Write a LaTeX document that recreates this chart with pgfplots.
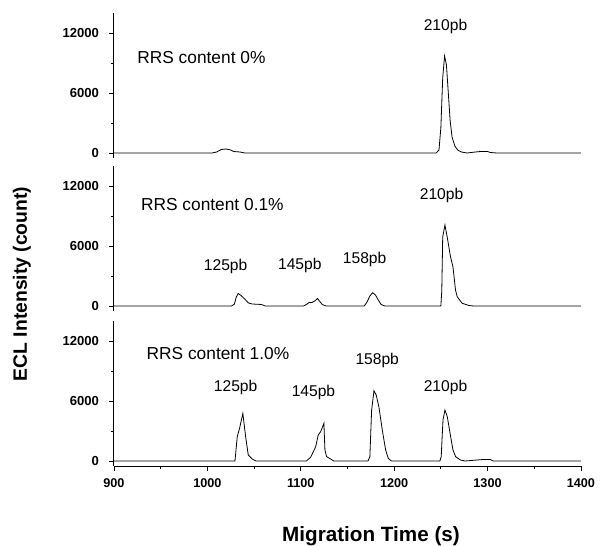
\documentclass[border=0pt]{standalone}
\usepackage{pgfplots}
\pgfplotsset{compat=1.18}
\usepackage{fontspec}
\setmainfont{Liberation Sans}

\pgfplotsset{
  panel/.style={
    scale only axis,
    width=350.25pt, height=108.75pt,
    xmin=900, xmax=1400, ymin=-500, ymax=14000,
    axis y line*=left,
    axis line style={black, line width=0.7pt},
    ytick={0,6000,12000}, minor ytick={3000,9000},
    scaled y ticks=false, scaled x ticks=false,
    tick align=outside,
    major tick length=3.75pt, minor tick length=2.5pt,
    tick style={black, line width=0.6pt},
    /pgf/number format/assume math mode=true,
    /pgf/number format/1000 sep={},
    yticklabel style={font=\bfseries\fontsize{9.8}{11}\selectfont, xshift=-4pt},
    xticklabel style={font=\bfseries\fontsize{9.5}{11}\selectfont},
    clip=false,
  },
  trace/.style={black, line width=0.6pt, mark=none},
}
\tikzset{
  note/.style={font=\fontsize{11.7}{13}\selectfont},
  title note/.style={font=\fontsize{13}{15}\selectfont, anchor=west},
}

\begin{document}
\begin{tikzpicture}[x=0.75pt,y=0.75pt]
\path[use as bounding box] (0,0) rectangle (600,546);

% top panel: RRS 0%
\begin{axis}[panel, axis x line=none, at={(122,388)}, anchor=south west]
\addplot[trace] coordinates {
  (900,0) (1005,0) (1010,100) (1015,350) (1020,400) (1025,300) (1028,150)
  (1035,100) (1040,0) (1245,0) (1248,300) (1250,2500) (1252,7500)
  (1254,9700) (1256,8800) (1258,6000) (1260,3200) (1262,1600) (1265,700)
  (1268,300) (1272,100) (1278,0) (1287,100) (1293,150) (1300,150)
  (1303,50) (1310,0) (1400,0)
};
\node[title note] at (axis cs:920,9500) {RRS content 0\%};
\node[note] at (axis cs:1255,12630) {210pb};
\end{axis}

% middle panel: RRS 0.1%
\begin{axis}[panel, axis x line=none, at={(122,235)}, anchor=south west]
\addplot[trace] coordinates {
  (900,0) (1026,0) (1029,200) (1031,900) (1033,1250) (1036,1050)
  (1040,700) (1044,300) (1048,200) (1058,150) (1062,0) (1103,0)
  (1106,150) (1109,350) (1112,350) (1115,500) (1118,750) (1120,500)
  (1123,150) (1127,0) (1168,0) (1171,400) (1174,1000) (1177,1330)
  (1180,1100) (1183,600) (1186,150) (1190,0) (1250,0) (1251,1500)
  (1252,6900) (1254.4,8100) (1256.8,6900) (1260.4,4900) (1263,3900)
  (1265.7,1600) (1267.5,930) (1272.8,270) (1280,50) (1285,0) (1400,0)
};
\node[title note] at (axis cs:924,10100) {RRS content 0.1\%};
\node[note] at (axis cs:1019.6,3930) {125pb};
\node[note] at (axis cs:1099,4100) {145pb};
\node[note] at (axis cs:1168.4,4700) {158pb};
\node[note] at (axis cs:1250.8,11100) {210pb};
\end{axis}

% bottom panel: RRS 1.0%
\begin{axis}[panel, at={(122,80)}, anchor=south west,
  axis x line*=bottom,
  xtick={900,1000,...,1400}, minor xtick={950,1050,...,1350},
  xticklabel style={yshift=-2pt}]
\addplot[trace] coordinates {
  (900,0) (1029.6,0) (1032,2430) (1034.5,3260) (1038,4760) (1041,2430)
  (1043.8,600) (1048,200) (1052,0) (1106,0) (1110.6,370) (1116,1430)
  (1118.7,2600) (1121.3,2930) (1124.8,3760) (1125.9,1100) (1127.7,430)
  (1132,200) (1135.5,0) (1172,0) (1174,430) (1175.9,5100) (1178.4,7030)
  (1180.8,6600) (1183.7,5400) (1187.3,3100) (1190.9,1100) (1193.7,270)
  (1197,0) (1249,0) (1250.4,430) (1252.3,4100) (1254.4,5100)
  (1256.9,4430) (1260.5,2430) (1263,1100) (1265.8,430) (1271,100)
  (1276,0) (1289,100) (1295,150) (1303,150) (1306,0) (1400,0)
};
\node[title note] at (axis cs:930,10770) {RRS content 1.0\%};
\node[note] at (axis cs:1030.3,7370) {125pb};
\node[note] at (axis cs:1113.6,6830) {145pb};
\node[note] at (axis cs:1181.9,10030) {158pb};
\node[note] at (axis cs:1255,7330) {210pb};
\end{axis}

\node[rotate=90, font=\bfseries\fontsize{14.5}{16}\selectfont] at (22,262) {ECL Intensity (count)};
\node[font=\bfseries\fontsize{15.5}{17}\selectfont] at (371,9.3) {Migration Time (s)};
\end{tikzpicture}
\end{document}
